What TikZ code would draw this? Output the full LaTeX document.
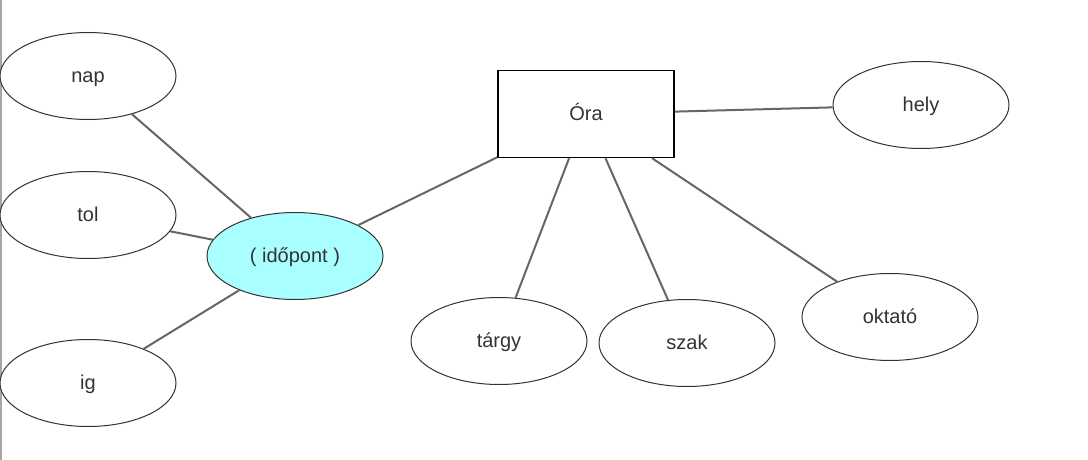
\documentclass[tikz,border=0pt]{standalone}
\usepackage{fontspec}
\setmainfont{Liberation Sans}
\usetikzlibrary{shapes.geometric}
\definecolor{txt}{HTML}{333333}
\definecolor{edge}{HTML}{666666}
\definecolor{cyanfill}{HTML}{A9FFFF}
\tikzset{
  attr/.style={ellipse, draw=txt, line width=1pt, fill=white, minimum width=176pt, minimum height=87pt, inner sep=0pt,
    font=\fontsize{20pt}{24pt}\selectfont, text=txt, text height=18.1pt, text depth=4.24pt},
  key/.style={attr, fill=cyanfill},
  entity/.style={rectangle, draw=black, line width=1.5pt, fill=white, minimum width=176pt, minimum height=87pt, inner sep=0pt,
    font=\fontsize{20pt}{24pt}\selectfont, text=txt, text height=18.1pt, text depth=4.24pt},
  conn/.style={draw=edge, line width=2pt}
}
\begin{document}
\begin{tikzpicture}[x=1pt,y=-1pt]
\useasboundingbox (0,0) rectangle (1088,460);
\fill[white] (0,0) rectangle (1088,460);
\draw[gray!70, line width=1.5pt] (0.75,0) -- (0.75,460);
\node[attr] (nap) at (88,76) {nap};
\node[attr] (tol) at (88,215) {tol};
\node[attr] (ig) at (88,383) {ig};
\node[key] (idopont) at (295,256) {( időpont )};
\node[entity] (ora) at (586,114) {Óra};
\node[attr] (hely) at (921,105) {hely};
\node[attr] (targy) at (499,341) {tárgy};
\node[attr] (szak) at (687,343) {szak};
\node[attr] (oktato) at (890,317) {oktató};
\draw[conn] (nap) -- (idopont);
\draw[conn] (tol) -- (idopont);
\draw[conn] (ig) -- (idopont);
\draw[conn] (idopont) -- (ora);
\draw[conn] (ora) -- (hely);
\draw[conn] (ora) -- (targy);
\draw[conn] (ora) -- (szak);
\draw[conn] (ora) -- (oktato);
\end{tikzpicture}
\end{document}
